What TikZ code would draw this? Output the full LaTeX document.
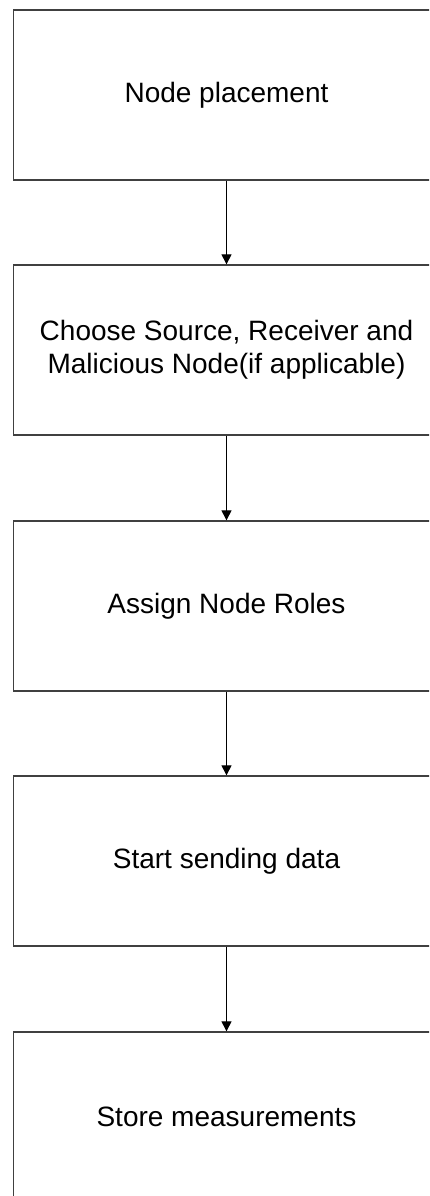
\documentclass[tikz,border=0pt]{standalone}
\usepackage{fontspec}
\setmainfont{Liberation Sans}
\usetikzlibrary{arrows.meta}
\begin{document}
\begin{tikzpicture}[x=1pt,y=-1pt,
  stepbox/.style={draw=black!75,line width=1.3pt,minimum width=426pt,
    minimum height=170pt,inner sep=0pt,align=center,
    font=\fontsize{28}{33}\selectfont},
  flow/.style={draw=black,line width=1pt,-{Triangle[length=10pt,width=10pt]}}]
\useasboundingbox (0,0) rectangle (429,1196);
\clip (0,0) rectangle (429,1196);
\node[stepbox] (s1) at (226.5,95) {Node placement};
\node[stepbox] (s2) at (226.5,350) {Choose Source, Receiver and\\Malicious Node(if applicable)};
\node[stepbox] (s3) at (226.5,606) {Assign Node Roles};
\node[stepbox] (s4) at (226.5,861) {Start sending data};
\node[stepbox] (s5) at (226.5,1117) {Store measurements};
\draw[flow] (s1.south) -- (s2.north);
\draw[flow] (s2.south) -- (s3.north);
\draw[flow] (s3.south) -- (s4.north);
\draw[flow] (s4.south) -- (s5.north);
\end{tikzpicture}
\end{document}
